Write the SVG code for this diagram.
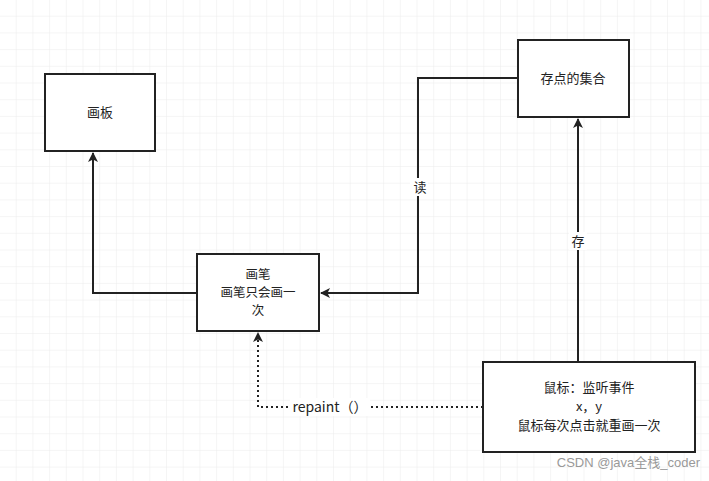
<svg xmlns="http://www.w3.org/2000/svg" width="709" height="481" viewBox="0 0 709 481">
<defs>
<pattern id="g" width="16.7" height="16.7" patternUnits="userSpaceOnUse"><path d="M16.7 0V16.7H0" fill="none" stroke="#ebebeb" stroke-width="1"/></pattern>
<marker id="a" markerWidth="10" markerHeight="10" refX="9" refY="5" orient="auto" markerUnits="userSpaceOnUse" viewBox="0 0 10 10"><path d="M0 0L10 5L0 10L2.5 5Z" fill="#222"/></marker>
<style>
.box{fill:#fff;stroke:#222;stroke-width:2}
.t{font-family:"Noto Sans CJK SC","Liberation Sans",sans-serif;font-size:13px;fill:#222;text-anchor:middle}
.s{font-size:12.5px}
.c{fill:none;stroke:#222;stroke-width:2}
</style>
</defs>
<rect width="709" height="481" fill="#fff"/>
<rect width="709" height="481" fill="url(#g)"/>
<g id="connectors">
<path class="c" d="M197 293H93V153" marker-end="url(#a)"/>
<path class="c" d="M518 78H418V293H321" marker-end="url(#a)"/>
<path class="c" d="M578 362V119" marker-end="url(#a)"/>
<path class="c" d="M483 407H258V333" stroke-dasharray="2 3" marker-end="url(#a)"/>
<rect x="410" y="178" width="18" height="18" fill="#fff"/>
<text class="t" x="420" y="192">读</text>
<rect x="569" y="232" width="18" height="18" fill="#fff"/>
<text class="t" x="578" y="246">存</text>
<rect x="290" y="398" width="80" height="18" fill="#fff"/>
<text class="t" x="330" y="412" style="font-size:14px">repaint（）</text>
</g>
<g id="huaban"><rect class="box" x="45" y="74" width="110" height="77"/><text class="t" x="100" y="117">画板</text></g>
<g id="cundian"><rect class="box" x="518" y="40" width="111" height="77"/><text class="t" x="573" y="83">存点的集合</text></g>
<g id="huabi"><rect class="box" x="197" y="254" width="122" height="77"/>
<text class="t s" x="258" y="279">画笔</text><text class="t s" x="258" y="297">画笔只会画一</text><text class="t s" x="258" y="315">次</text></g>
<g id="mouse"><rect class="box" x="483" y="362" width="212" height="90"/>
<text class="t" x="589" y="392">鼠标：监听事件</text><text class="t" x="589" y="411">x，y</text><text class="t" x="589" y="430">鼠标每次点击就重画一次</text></g>
<text x="700" y="467" style="font-family:'Liberation Sans','Noto Sans CJK SC',sans-serif;font-size:13px;fill:#999;text-anchor:end">CSDN @java全栈_coder</text>
</svg>
